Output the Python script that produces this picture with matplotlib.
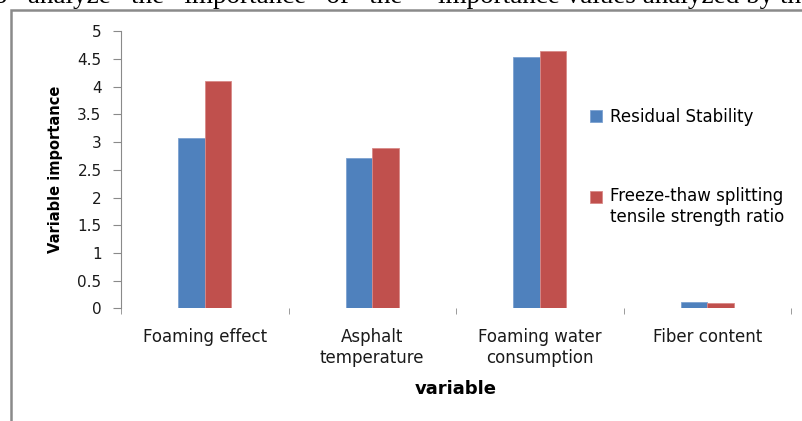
import matplotlib.pyplot as plt
from matplotlib.patches import Rectangle

# data
categories = ["Foaming effect", "Asphalt\ntemperature", "Foaming water\nconsumption", "Fiber content"]
residual_stability = [3.07, 2.71, 4.54, 0.12]
freeze_thaw_ratio = [4.10, 2.90, 4.64, 0.10]
series_names = ["Residual Stability", "Freeze-thaw splitting\ntensile strength ratio"]
yticks = [0, 0.5, 1, 1.5, 2, 2.5, 3, 3.5, 4, 4.5, 5]

W, H = 802, 421
plt.rcParams['font.family'] = ['DejaVu Sans']

fig = plt.figure(figsize=(W / 100, H / 100), dpi=100)

# page text cut off at the top of the screenshot
fig.text(-6 / W, 1 - 3 / H, "o   analyze   the   importance   of   the", family='Liberation Serif',
         fontsize=19.5, va='baseline', ha='left')
fig.text(438 / W, 1 - 3 / H, "importance values analyzed by the", family='Liberation Serif',
         fontsize=19.5, va='baseline', ha='left')

# chart frame
fig.patches.append(Rectangle((11 / W, -0.1), 1.2, 1 - 10 / H + 0.1, transform=fig.transFigure,
                             fill=False, edgecolor='#8a8a8a', linewidth=1.8))

ax = fig.add_axes([121 / W, (H - 308.3) / H, (791 - 121) / W, (308.3 - 31.3) / H])

x = list(range(len(categories)))
bw = 0.158
ax.bar([i - bw / 2 for i in x], residual_stability, bw, color='#4F81BD', edgecolor='#7da2d1',
       linewidth=0.6, label=series_names[0])
ax.bar([i + bw / 2 for i in x], freeze_thaw_ratio, bw, color='#C0504D', edgecolor='#d88a88',
       linewidth=0.6, label=series_names[1])

ax.set_xlim(-0.5, len(categories) - 0.5)
ax.set_ylim(0, 5)
ax.set_yticks(yticks)
ax.set_yticklabels([f"{v:g}" for v in yticks], fontsize=11, color='#1a1a1a')
ax.set_xticks(x)
ax.set_xticklabels(categories, fontsize=12, color='#1a1a1a', linespacing=1.2)
ax.set_xticks([i - 0.5 for i in range(len(categories) + 1)], minor=True)
ax.tick_params(axis='x', which='major', length=0, pad=14)
ax.tick_params(axis='x', which='minor', length=4, color='#8a8a8a', direction='out')
ax.tick_params(axis='y', length=6, color='#8a8a8a', pad=8)

for s in ['top', 'right', 'bottom']:
    ax.spines[s].set_visible(False)
ax.spines['left'].set_color('#8a8a8a')

ax.set_ylabel("Variable importance", fontsize=10.5, fontweight='bold', labelpad=10)
ax.set_xlabel("variable", fontsize=13, fontweight='bold', labelpad=10)

leg = fig.legend(loc='upper left', bbox_to_anchor=(590 / W, 1 - 108 / H), frameon=False,
                 fontsize=12, handlelength=0.7, handleheight=0.7, handletextpad=0.5,
                 labelspacing=3.65, borderpad=0, borderaxespad=0)
# lift the second square to the first line of its two-line label
h = leg.legend_handles[1]
h.set_y(h.get_y() + 7.5)

fig.savefig("out.png", dpi=100)
